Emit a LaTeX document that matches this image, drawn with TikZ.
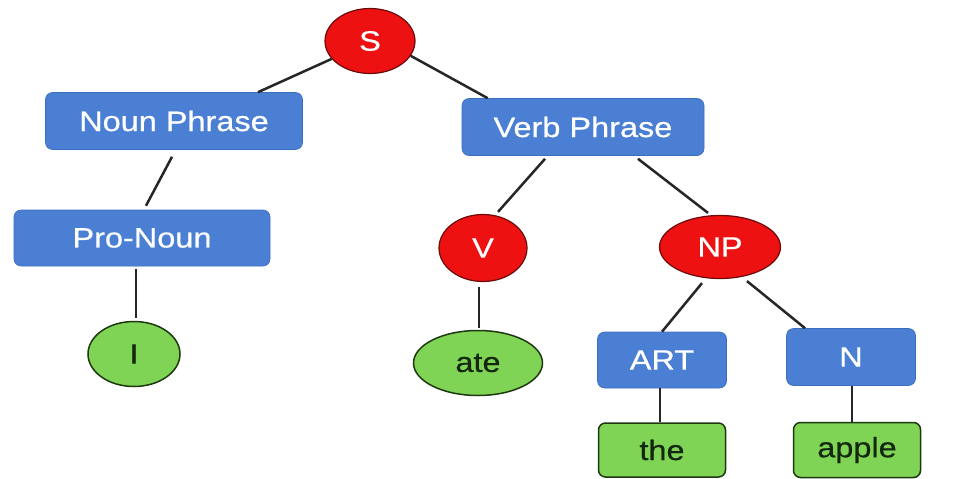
\documentclass[tikz,border=0pt]{standalone}
\usepackage{fontspec}
\setmainfont{Liberation Sans}[FakeStretch=1.16,FakeBold=0.6]
\usetikzlibrary{shapes.geometric}
\definecolor{boxblue}{HTML}{4A7FD4}
\definecolor{boxblueline}{HTML}{3A6EC0}
\definecolor{nodered}{HTML}{EE1111}
\definecolor{noderedline}{HTML}{6A0A0A}
\definecolor{leafgreen}{HTML}{80D455}
\definecolor{leafgreenline}{HTML}{1E3810}
\definecolor{leaftext}{HTML}{142810}
\tikzset{
  phrase/.style={rectangle, rounded corners=7pt, fill=boxblue, draw=boxblueline, line width=0.6pt,
    text=white, inner sep=0pt, font=\fontsize{28}{30}\selectfont},
  cat/.style={ellipse, fill=nodered, draw=noderedline, line width=1.2pt, text=white,
    inner sep=0pt, font=\fontsize{28}{30}\selectfont},
  leafell/.style={ellipse, fill=leafgreen, draw=leafgreenline, line width=1.5pt, text=leaftext,
    inner sep=0pt, font=\fontsize{28}{30}\selectfont},
  leafbox/.style={rectangle, rounded corners=7pt, fill=leafgreen, draw=leafgreenline, line width=1.5pt,
    text=leaftext, inner sep=0pt, font=\fontsize{28}{30}\selectfont},
  edge/.style={line width=2.5pt, draw=black!85}
}
\begin{document}
\begin{tikzpicture}[x=1pt,y=-1pt]
\useasboundingbox[fill=white] (0,0) rectangle (954,479);
% nodes
\node[cat, minimum width=90pt, minimum height=65pt] (S) at (370,41) {S};
\node[phrase, minimum width=257pt, minimum height=57pt] (NounP) at (174,121) {Noun Phrase};
\node[phrase, minimum width=242pt, minimum height=57pt] (VerbP) at (583,127) {Verb Phrase};
\node[phrase, minimum width=256pt, minimum height=56pt] (ProN) at (142,238) {Pro-Noun};
\node[leafell, minimum width=92pt, minimum height=65pt] (I) at (134,354) {I};
\node[cat, minimum width=88pt, minimum height=67pt] (V) at (483,248) {V};
\node[leafell, minimum width=129pt, minimum height=65pt] (ate) at (478,363) {ate};
\node[cat, minimum width=121pt, minimum height=63pt] (NPr) at (720,247) {NP};
\node[phrase, minimum width=129pt, minimum height=56pt] (ART) at (662,360) {ART};
\node[phrase, minimum width=129pt, minimum height=57pt] (N) at (851,357) {N};
\node[leafbox, minimum width=127pt, minimum height=54pt] (the) at (662,450) {the};
\node[leafbox, minimum width=127pt, minimum height=55pt] (apple) at (857,450) {apple};
% connectors
\draw[edge] (S.205) -- ([xshift=84pt]NounP.north);
\draw[edge] (S.-20) -- ([xshift=26pt]VerbP.north west);
\draw[edge] ([xshift=-2pt,yshift=-7pt]NounP.south) -- ([xshift=4pt,yshift=4pt]ProN.north);
\draw[edge] ([xshift=-6pt,yshift=-3pt]ProN.south) -- ([xshift=2pt,yshift=3pt]I.north);
\draw[edge] ([xshift=-38pt,yshift=-3pt]VerbP.south) -- ([xshift=15pt,yshift=2pt]V.north);
\draw[edge] ([xshift=55pt,yshift=-3pt]VerbP.south) -- ([xshift=-12pt,yshift=2pt]NPr.north);
\draw[edge] ([xshift=-4pt,yshift=-5pt]V.south) -- ([xshift=1pt,yshift=2pt]ate.north);
\draw[edge] ([xshift=-18pt,yshift=-4pt]NPr.south) -- (ART.north);
\draw[edge] ([xshift=27pt,yshift=-2pt]NPr.south) -- ([xshift=-46pt]N.north);
\draw[edge] ([xshift=-2pt]ART.south) -- ([xshift=-2pt]the.north);
\draw[edge] ([xshift=1pt]N.south) -- ([xshift=-5pt]apple.north);
\end{tikzpicture}
\end{document}
